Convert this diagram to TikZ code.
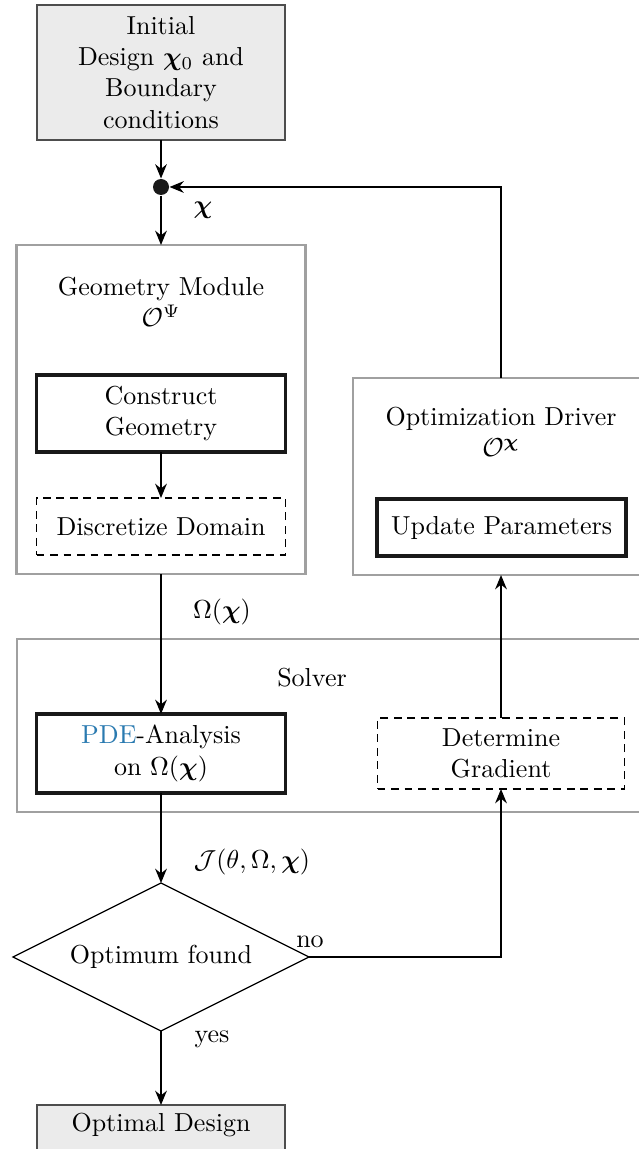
\documentclass[tikz,border=0pt]{standalone}
\usepackage{amsmath,amssymb,bm}
\usetikzlibrary{arrows.meta,calc}
\definecolor{boxgray}{HTML}{A0A0A0}
\definecolor{initfill}{HTML}{EBEBEB}
\definecolor{initborder}{HTML}{4D4D4D}
\definecolor{pdeblue}{HTML}{2A7AB0}
\tikzset{
  arr/.style={-{Stealth[length=5.5pt,width=4.5pt,inset=1.8pt]}, line width=0.6pt},
  modulebox/.style={draw=boxgray, line width=0.8pt, rectangle, inner sep=0pt, outer sep=0pt},
  stepbox/.style={draw=black!90, line width=1.2pt, rectangle, inner sep=0pt, outer sep=0pt, align=center},
  dashbox/.style={draw=black, line width=0.6pt, dash pattern=on 3pt off 2.2pt, rectangle, inner sep=0pt, outer sep=0pt, align=center},
  termbox/.style={draw=initborder, fill=initfill, line width=0.6pt, rectangle, inner sep=0pt, outer sep=0pt, align=center},
  lbl/.style={inner sep=0pt, align=center},
}
\begin{document}
\begin{tikzpicture}[x=0.3846pt, y=-0.3846pt]
\useasboundingbox (0,0) rectangle (638,1149);
% terminal boxes
\node[termbox, minimum width=248*0.3846pt, minimum height=135*0.3846pt] (init) at (161,72.5)
  {Initial\\Design $\boldsymbol{\chi}_0$ and\\Boundary\\conditions};
\node[circle, fill=black!90, minimum size=16*0.3846pt, inner sep=0pt] (dot) at (161,187) {};
\node[lbl] (chilbl) at (203,210) {$\boldsymbol{\chi}$};
% geometry module
\node[modulebox, minimum width=289*0.3846pt, minimum height=329*0.3846pt] (geo) at (161,409.5) {};
\node[lbl] (geotitle) at (161,302) {Geometry Module\\$\mathcal{O}^{\Psi}$};
\node[stepbox, minimum width=249*0.3846pt, minimum height=77*0.3846pt] (cons) at (161,413.5) {Construct\\Geometry};
\node[dashbox, minimum width=249*0.3846pt, minimum height=57*0.3846pt] (disc) at (161,526.5) {Discretize Domain};
% optimization driver
\node[modulebox, minimum width=296*0.3846pt, minimum height=197*0.3846pt] (opt) at (501,476.5) {};
\node[lbl] (opttitle) at (501,432) {Optimization Driver\\$\mathcal{O}^{\boldsymbol{\chi}}$};
\node[stepbox, minimum width=249*0.3846pt, minimum height=57*0.3846pt] (upd) at (501.5,527.5) {Update Parameters};
% solver
\node[modulebox, minimum width=633*0.3846pt, minimum height=173*0.3846pt] (solver) at (333.5,725.5) {};
\node[lbl] (solvtitle) at (312,678) {Solver};
\node[stepbox, minimum width=249*0.3846pt, minimum height=79*0.3846pt] (pde) at (161,753.5)
  {\textcolor{pdeblue}{PDE}-Analysis\\on $\Omega(\boldsymbol{\chi})$};
\node[dashbox, minimum width=247*0.3846pt, minimum height=71*0.3846pt] (grad) at (501,753.5) {Determine\\Gradient};
% decision diamond
\coordinate (dtop) at (161,883);
\coordinate (dright) at (309,957);
\coordinate (dbottom) at (161,1031);
\coordinate (dleft) at (13,957);
\draw[line width=0.5pt] (dtop) -- (dright) -- (dbottom) -- (dleft) -- cycle;
\node[lbl] (dia) at (161,957) {Optimum found};
\node[lbl] (nolbl) at (310,942) {no};
\node[lbl] (yeslbl) at (212,1039) {yes};
% final
\node[termbox, minimum width=248*0.3846pt, minimum height=45*0.3846pt] (final) at (161,1127.5) {};
\node[lbl] (finaltxt) at (161,1125) {Optimal Design};
% labels
\node[lbl] (omegalbl) at (222,612) {$\Omega(\boldsymbol{\chi})$};
\node[lbl] (jlbl) at (252,862) {$\mathcal{J}(\theta,\Omega,\boldsymbol{\chi})$};
% connectors
\draw[arr] (init.south) -- (dot.north);
\draw[arr] (dot.south) -- (dot |- geo.north);
\draw[arr] (cons.south) -- (disc.north);
\draw[arr] (geo.south) -- (pde.north);
\draw[arr] (pde.south) -- (dtop);
\draw[arr] (dbottom) -- (final.north);
\draw[arr] (dright) -| (grad.south);
\draw[arr] (grad.north) -- (grad.north |- opt.south);
\draw[arr] (opt.north) |- (dot.east);
\end{tikzpicture}
\end{document}
